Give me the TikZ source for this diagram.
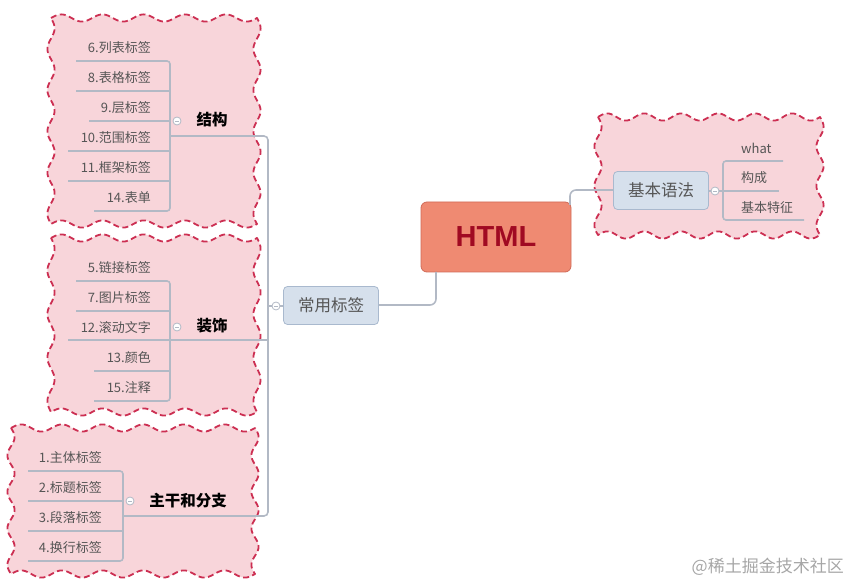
\documentclass[tikz,border=0pt]{standalone}
\usepackage{fontspec}
\setmainfont{Noto Sans CJK SC}
\newfontfamily\htmlfont{Liberation Sans}
\definecolor{cloudfill}{HTML}{F8D5DA}
\definecolor{clouddraw}{HTML}{CC2F52}
\definecolor{linegray}{HTML}{B2B9C5}
\definecolor{leafgray}{HTML}{555555}
\definecolor{rootfill}{HTML}{EF8A72}
\definecolor{rootdraw}{HTML}{D06A57}
\definecolor{roottext}{HTML}{A00A22}
\definecolor{subfill}{HTML}{D6E0EC}
\definecolor{subdraw}{HTML}{A9B9CE}
\tikzset{
  cloud/.style={fill=cloudfill, draw=clouddraw, line width=1.8pt, dash pattern=on 6pt off 3.5pt, line join=round},
  conn/.style={draw=linegray, line width=1.6pt, rounded corners=3pt},
  leaf/.style={text=leafgray, font=\fontsize{13}{15}\selectfont, inner sep=0pt},
  topic/.style={text=black, font=\fontsize{15.5}{17}\selectfont\bfseries, inner sep=0pt},
  subnode/.style={fill=subfill, draw=subdraw, line width=0.8pt, rounded corners=4pt,
    text=leafgray, font=\fontsize{16.5}{18}\selectfont, minimum width=95pt, minimum height=38pt, inner sep=0pt},
  collapse/.style={circle, fill=white, draw=linegray, line width=0.8pt, minimum size=8pt, inner sep=0pt,
    path picture={\draw[linegray, line width=0.8pt] ([xshift=-2pt]path picture bounding box.center) -- ([xshift=2pt]path picture bounding box.center);}}
}
% wavy box: x1 y1 x2 y2 waves-horizontal waves-vertical
\newcommand\wavybox[6]{%
  \path[cloud]
    plot[domain=0:1,samples=121] ({#1+\x*(#3-#1)},{#2-3.6*sin(\x*#5*360)})
    -- plot[domain=0:1,samples=121] ({#3+3.6*sin(\x*#6*360)},{#2+\x*(#4-#2)})
    -- plot[domain=0:1,samples=121] ({#3-\x*(#3-#1)},{#4+3.6*sin(\x*#5*360)})
    -- plot[domain=0:1,samples=121] ({#1-3.6*sin(\x*#6*360)},{#4-\x*(#4-#2)})
    -- cycle;}
\begin{document}
\begin{tikzpicture}[x=1pt,y=-1pt]
\useasboundingbox (0,0) rectangle (849,585);
% clouds
\wavybox{51}{18}{257}{224}{5}{5}
\wavybox{51}{238}{257}{412}{5}{4}
\wavybox{11}{428}{255}{574}{6}{4}
\wavybox{598}{117}{820}{235}{6}{3}

% root and subtopics
\node[fill=rootfill, draw=rootdraw, line width=0.8pt, rounded corners=6pt, minimum width=150pt, minimum height=70pt,
  text=roottext, font=\htmlfont\fontsize{29}{30}\selectfont\bfseries] (root) at (496,237) {HTML};
\node[subnode] (cy) at (331,305.5) {常用标签};
\node[subnode] (jb) at (661,190.5) {基本语法};

\coordinate (rootS) at (436,272);
\coordinate (rootE) at (570,205);
\draw[conn, rounded corners=6pt] (rootS) -- (436,305) -- (cy.east |- 0,305);
\draw[conn, rounded corners=6pt] (rootE) -- (570,190) -- (jb.west |- 0,190);

% trunk of 常用标签
\draw[conn, rounded corners=4pt] (170,136) -- (268,136) -- (268,516) -- (123,516);
\draw[conn] (268,306) -- (cy.west |- 0,306);
\node[collapse] (c0) at (276,306) {};

% ---- 结构
\node[topic] (jg) at (212,120) {结构};
\node[collapse] (c1) at (177,121) {};
\node[leaf, anchor=east] (l6) at (151,48) {6.列表标签};
\node[leaf, anchor=east] (l8) at (151,78) {8.表格标签};
\node[leaf, anchor=east] (l9) at (151,108) {9.层标签};
\node[leaf, anchor=east] (l10) at (151,138) {10.范围标签};
\node[leaf, anchor=east] (l11) at (151,168) {11.框架标签};
\node[leaf, anchor=east] (l14) at (151,198) {14.表单};
\draw[conn] (76,61) -- (170,61) -- (170,211) -- (94,211);
\draw[conn] (76,91) -- (170,91);
\draw[conn] (89,121) -- (170,121);
\draw[conn] (68,151) -- (170,151);
\draw[conn] (68,181) -- (170,181);

% ---- 装饰
\node[topic] (zs) at (212,326) {装饰};
\node[leaf, anchor=east] (l5) at (151,268) {5.链接标签};
\node[leaf, anchor=east] (l7) at (151,298) {7.图片标签};
\node[leaf, anchor=east] (l12) at (151,328) {12.滚动文字};
\node[leaf, anchor=east] (l13) at (151,358) {13.颜色};
\node[leaf, anchor=east] (l15) at (151,388) {15.注释};
\draw[conn] (76,281) -- (170,281) -- (170,401) -- (94,401);
\draw[conn] (76,311) -- (170,311);
\draw[conn] (68,340) -- (268,340);
\draw[conn] (94,371) -- (170,371);
\node[collapse] (c2) at (177,327) {};

% ---- 主干和分支
\node[topic] (zg) at (188,501) {主干和分支};
\node[leaf, anchor=east] (l1) at (102,458) {1.主体标签};
\node[leaf, anchor=east] (l2) at (102,488) {2.标题标签};
\node[leaf, anchor=east] (l3) at (102,518) {3.段落标签};
\node[leaf, anchor=east] (l4) at (102,548) {4.换行标签};
\draw[conn] (28,471) -- (123,471) -- (123,561) -- (28,561);
\draw[conn] (28,501) -- (123,501);
\draw[conn] (28,531) -- (123,531);
\node[collapse] (c3) at (130,501) {};

% ---- 基本语法 leaves
\draw[conn] (783,161) -- (723,161) -- (723,220) -- (804,220);
\draw[conn] (jb.east |- 0,191) -- (779,191);
\node[collapse] (c4) at (715,191) {};
\node[leaf, anchor=west] (what) at (741,148) {what};
\node[leaf, anchor=west] (gc) at (741,178) {构成};
\node[leaf, anchor=west] (tz) at (741,208) {基本特征};

% watermark
\node[text=black!35, font=\fontsize{17}{18}\selectfont, anchor=east, inner sep=0pt] (wm) at (844,567) {@稀土掘金技术社区};
\end{tikzpicture}
\end{document}
